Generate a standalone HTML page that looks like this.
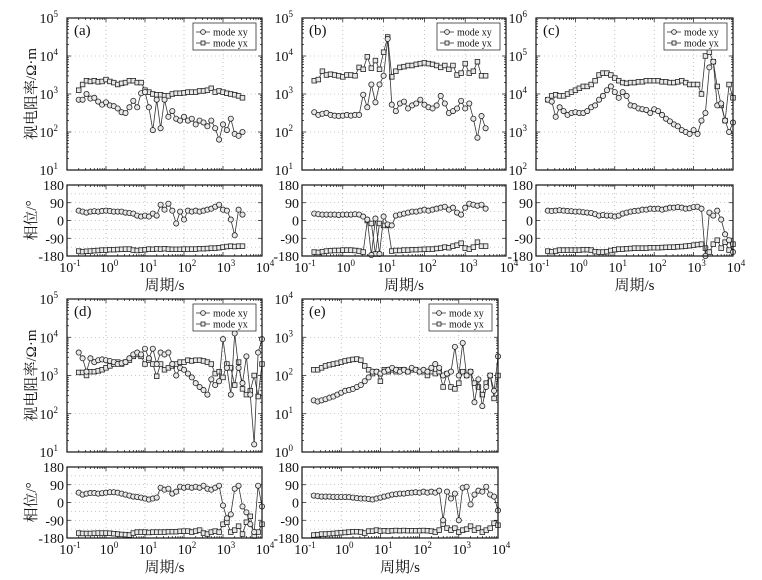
<!DOCTYPE html>
<html><head><meta charset="utf-8"><style>
body{margin:0;background:#fff;}
svg{display:block;}
svg text{font-family:"Liberation Serif","Noto Serif CJK SC",serif;}
</style></head><body>
<svg id="fig" width="762" height="580" viewBox="0 0 762 580" xmlns="http://www.w3.org/2000/svg" font-family="Liberation Serif, Noto Serif CJK SC, serif"></svg>
<script>
// shared period axis (log10 seconds)
const periodsAB = [-0.7,-0.6,-0.5,-0.4,-0.3,-0.2,-0.1,0,0.1,0.2,0.3,0.4,0.5,0.6,0.7,0.8,0.9,1.0,1.1,1.2,1.3,1.4,1.5,1.6,1.7,1.8,1.9,2.0,2.1,2.2,2.3,2.4,2.5,2.6,2.7,2.8,2.9,3.0,3.1,3.2,3.3,3.4,3.5];
const periodsCDE = [-0.7,-0.6,-0.5,-0.4,-0.3,-0.2,-0.1,0,0.1,0.2,0.3,0.4,0.5,0.6,0.7,0.8,0.9,1.0,1.1,1.2,1.3,1.4,1.5,1.6,1.7,1.8,1.9,2.0,2.1,2.2,2.3,2.4,2.5,2.6,2.7,2.8,2.9,3.0,3.1,3.2,3.3,3.4,3.5,3.6,3.7,3.8,3.9,4.0];
const xTickLabels = ["-1","0","1","2","3","4"];
const phaseTicks = [180,90,0,-90,-180];

// (a) log10 apparent resistivity and phase (deg)
const aXyRho = [2.85,2.85,3.0,2.88,2.9,2.8,2.72,2.78,2.7,2.68,2.62,2.52,2.5,2.65,2.82,2.65,3.02,3.05,2.65,2.05,2.85,2.1,2.85,2.4,2.55,2.35,2.3,2.4,2.3,2.35,2.2,2.3,2.25,2.15,2.3,2.1,1.8,2.2,2.05,2.35,1.95,1.9,2.0];
const aYxRho = [3.1,3.25,3.35,3.33,3.35,3.32,3.33,3.38,3.33,3.3,3.25,3.28,3.3,3.35,3.35,3.3,3.3,3.1,3.05,3.0,2.98,2.98,2.95,2.95,3.0,3.02,3.02,3.03,3.05,3.05,3.05,3.08,3.08,3.1,3.15,3.05,3.08,3.05,3.02,3.0,2.98,2.95,2.9];
const aXyPh = [50,45,40,45,47,45,48,50,48,45,45,45,40,38,35,25,20,25,20,35,25,80,55,85,50,-15,45,5,50,45,50,45,50,55,60,70,80,55,50,5,-75,55,30];
const aYxPh = [-155,-158,-156,-155,-153,-152,-150,-150,-148,-148,-147,-146,-145,-145,-150,-152,-150,-148,-145,-146,-144,-145,-143,-145,-146,-146,-146,-145,-145,-145,-145,-143,-143,-142,-140,-140,-138,-135,-132,-130,-132,-130,-130];
// (b)
const bXyRho = [2.52,2.45,2.48,2.5,2.45,2.43,2.42,2.43,2.45,2.43,2.45,2.45,2.98,2.65,3.25,2.78,3.25,3.48,4.45,2.72,2.55,2.75,2.8,2.62,2.7,2.75,2.85,2.72,2.65,2.62,2.7,2.95,2.75,2.5,2.55,2.62,2.82,2.62,2.75,2.35,1.85,2.42,2.1];
const bYxRho = [3.35,3.38,3.6,3.5,3.52,3.5,3.48,3.45,3.5,3.5,3.48,3.7,3.65,3.98,3.68,3.88,3.65,4.1,4.5,3.45,3.6,3.7,3.72,3.75,3.75,3.78,3.8,3.82,3.8,3.78,3.75,3.7,3.75,3.65,3.75,3.5,3.55,3.8,3.55,3.6,3.85,3.48,3.48];
const bXyPh = [35,32,30,30,30,30,28,30,30,30,32,30,20,5,-175,10,-170,20,-20,-25,25,30,35,40,45,45,50,55,50,55,60,65,70,55,65,40,30,65,85,80,75,80,60];
const bYxPh = [-160,-162,-158,-155,-153,-152,-152,-150,-150,-150,-152,-155,-160,0,-15,-170,-15,-25,-25,-155,-152,-152,-150,-150,-148,-148,-147,-146,-145,-145,-142,-140,-135,-138,-130,-125,-115,-140,-145,-135,-110,-130,-130];
// (c)
const cXyRho = [3.85,3.8,3.4,3.65,3.55,3.45,3.5,3.52,3.5,3.5,3.55,3.65,3.7,3.85,3.95,4.1,4.2,4.05,3.9,4.05,3.95,3.7,3.68,3.62,3.6,3.58,3.5,3.6,3.55,3.45,3.35,3.28,3.2,3.15,3.05,3.0,2.95,3.05,2.95,3.3,3.5,4.7,4.85,3.7,3.75,3.3,3.0,3.25];
const cYxRho = [3.85,3.95,3.98,3.95,3.95,4.0,4.05,4.1,4.15,4.2,4.2,4.25,4.35,4.5,4.55,4.55,4.5,4.42,4.35,4.3,4.28,4.3,4.3,4.32,4.32,4.35,4.35,4.35,4.35,4.32,4.32,4.3,4.3,4.32,4.35,4.3,4.25,4.25,4.25,4.0,5.0,5.1,4.85,4.2,3.7,3.3,4.25,3.9];
const cXyPh = [50,48,50,52,50,48,47,45,45,42,40,38,32,25,28,25,25,20,25,35,40,45,48,50,55,55,60,58,60,55,60,65,65,68,65,60,62,68,70,60,-180,40,25,50,5,-70,-100,-160];
const cYxPh = [-155,-158,-155,-150,-150,-150,-150,-150,-150,-148,-148,-150,-158,-160,-160,-158,-152,-148,-145,-145,-143,-142,-140,-140,-140,-140,-138,-138,-138,-137,-136,-135,-135,-133,-132,-130,-128,-125,-122,-120,-140,-160,-120,-100,-140,-110,-150,-120];
// (d)
const dXyRho = [3.6,3.45,3.1,3.45,3.35,3.4,3.42,3.4,3.38,3.35,3.3,3.32,3.35,3.45,3.55,3.6,3.55,3.7,3.45,3.7,3.3,3.6,3.55,3.6,3.3,3.0,3.2,3.15,3.05,2.95,2.8,2.7,2.62,2.5,2.9,2.75,2.85,3.95,3.2,2.5,4.1,3.2,2.8,3.5,2.5,1.2,3.6,3.95];
const dYxRho = [3.08,3.08,3.0,3.1,3.1,3.12,3.15,3.2,3.25,3.3,3.35,3.3,3.35,3.4,3.5,3.55,3.5,3.3,3.4,3.3,2.98,3.3,3.15,3.2,3.25,3.3,3.35,3.35,3.4,3.38,3.4,3.4,3.38,3.35,3.3,3.05,3.1,2.95,3.3,3.2,2.75,3.35,2.65,2.5,2.6,3.0,2.45,3.3];
const dXyPh = [50,40,45,48,48,45,47,50,52,52,50,45,40,35,30,28,25,20,15,20,25,75,65,70,45,55,80,75,80,75,80,75,85,70,65,75,85,-15,-80,-60,70,85,-20,-50,-110,-150,85,-20];
const dYxPh = [-155,-157,-157,-157,-156,-155,-155,-155,-156,-158,-160,-162,-163,-165,-155,-150,-150,-150,-152,-150,-150,-150,-150,-148,-148,-148,-146,-145,-145,-150,-145,-140,-155,-160,-150,-145,-150,-110,-100,-150,-140,-120,-160,-100,-70,-170,-150,-110];
// (e)
const eXyRho = [1.35,1.32,1.35,1.38,1.42,1.45,1.5,1.55,1.6,1.62,1.65,1.7,1.75,1.85,1.95,2.1,2.1,2.05,2.1,2.15,2.2,2.15,2.1,2.15,2.1,2.2,2.15,2.1,2.15,2.1,2.2,2.3,2.2,2.0,2.05,2.1,2.75,2.0,2.85,2.0,2.1,1.3,1.9,1.2,1.7,2.0,1.6,2.5];
const eYxRho = [2.15,2.15,2.2,2.25,2.28,2.3,2.32,2.35,2.38,2.4,2.42,2.43,2.4,2.25,2.15,2.05,2.1,1.85,2.15,2.1,2.15,2.1,2.15,2.15,2.1,2.15,2.15,2.1,2.1,2.0,2.1,2.05,2.1,1.7,2.05,1.7,1.65,1.8,2.1,2.0,2.1,1.8,1.7,1.5,1.8,2.0,1.4,2.0];
const eXyPh = [35,32,30,30,30,28,28,28,28,27,25,22,20,20,18,15,20,25,30,35,40,42,45,45,48,50,52,50,55,50,55,50,60,-90,55,20,45,-90,75,80,-10,40,60,55,80,40,30,-40];
const eYxPh = [-165,-163,-160,-160,-158,-157,-155,-153,-152,-150,-148,-148,-150,-155,-145,-145,-140,-145,-143,-145,-143,-142,-143,-142,-143,-143,-143,-143,-142,-143,-145,-150,-140,-110,-130,-140,-130,-150,-140,-135,-120,-140,-130,-150,-140,-130,-105,-115];

const NS = "http://www.w3.org/2000/svg";
const FF = '"Liberation Serif","Noto Serif CJK SC",serif';
const svg = document.getElementById('fig');
function mk(tag, attrs, parent){
  const e = document.createElementNS(NS, tag);
  for (const k in attrs) e.setAttribute(k, attrs[k]);
  if (tag === 'text') e.style.fontFamily = FF;
  (parent||svg).appendChild(e);
  return e;
}
function supText(parent, x, y, base, exp, anchor){
  const t = mk('text', {x:x, y:y, 'font-size':14, 'text-anchor':anchor, fill:'#111'}, parent);
  
  
  const b = document.createElementNS(NS,'tspan'); b.textContent = base; t.appendChild(b);
  const s = document.createElementNS(NS,'tspan'); s.setAttribute('dy','-6'); s.setAttribute('font-size','9'); s.textContent = exp; t.appendChild(s);
}
function drawSeries(g, periods, vals, sx, sy, marker, name){
  const sg = mk('g', {}, g);
  
  
  let d = '';
  periods.forEach((p,i)=>{ d += (i?'L':'M') + sx(p).toFixed(1) + ' ' + sy(vals[i]).toFixed(1); });
  mk('path', {d:d, fill:'none', stroke:'#333', 'stroke-width':0.8}, sg);
  periods.forEach((p,i)=>{
    const x = sx(p), y = sy(vals[i]);
    let m;
    if (marker==='circle') m = mk('circle', {cx:x, cy:y, r:2.6, fill:'#e8e8e8', stroke:'#222', 'stroke-width':0.8}, sg);
    else m = mk('rect', {x:x-2.3, y:y-2.3, width:4.6, height:4.6, fill:'#e8e8e8', stroke:'#222', 'stroke-width':0.8}, sg);
    
    
  });
}
function panel(cfg){
  const g = mk('g', {});
  
  
  const {x0,x1,ry0,ry1,py0,py1,rmin,rmax} = cfg;
  const sx = v => x0 + (v + 1) / 5 * (x1 - x0);
  const sr = v => ry1 - (v - rmin) / (rmax - rmin) * (ry1 - ry0);
  const sp = v => py1 - (v + 180) / 360 * (py1 - py0);
  const grid = mk('g', {stroke:'#999', 'stroke-width':0.6, 'stroke-dasharray':'1,3'}, g);
  
  
  for (let e=0;e<=4;e++){
    mk('line',{x1:sx(e),x2:sx(e),y1:ry0,y2:ry1},grid);
    mk('line',{x1:sx(e),x2:sx(e),y1:py0,y2:py1},grid);
  }
  for (let v=rmin+1; v<rmax; v++) mk('line',{x1:x0,x2:x1,y1:sr(v),y2:sr(v)},grid);
  [135,90,45,0,-45,-90,-135].forEach(v=>mk('line',{x1:x0,x2:x1,y1:sp(v),y2:sp(v)},grid));
  const tk = mk('g', {stroke:'#111','stroke-width':0.7}, g);
  for (let e=-1;e<4;e++){
    for (let m=1;m<10;m++){
      const x = sx(e + Math.log10(m)); const L = m===1?4:2;
      mk('line',{x1:x,x2:x,y1:ry1,y2:ry1-L},tk); mk('line',{x1:x,x2:x,y1:ry0,y2:ry0+L},tk);
      mk('line',{x1:x,x2:x,y1:py1,y2:py1-L},tk); mk('line',{x1:x,x2:x,y1:py0,y2:py0+L},tk);
    }
  }
  for (let e=rmin;e<rmax;e++){
    for (let m=1;m<10;m++){
      const y = sr(e + Math.log10(m)); const L = m===1?4:2;
      mk('line',{x1:x0,x2:x0+L,y1:y,y2:y},tk); mk('line',{x1:x1,x2:x1-L,y1:y,y2:y},tk);
    }
  }
  phaseTicks.forEach(v=>{ mk('line',{x1:x0,x2:x0+4,y1:sp(v),y2:sp(v)},tk); mk('line',{x1:x1,x2:x1-4,y1:sp(v),y2:sp(v)},tk); });
  drawSeries(g, cfg.periods, cfg.yxRho, sx, sr, 'square', 'mode-yx-resistivity');
  drawSeries(g, cfg.periods, cfg.xyRho, sx, sr, 'circle', 'mode-xy-resistivity');
  drawSeries(g, cfg.periods, cfg.yxPh, sx, sp, 'square', 'mode-yx-phase');
  drawSeries(g, cfg.periods, cfg.xyPh, sx, sp, 'circle', 'mode-xy-phase');
  const f1 = mk('rect',{x:x0,y:ry0,width:x1-x0,height:ry1-ry0,fill:'none',stroke:'#111','stroke-width':1.2},g);
   
  const f2 = mk('rect',{x:x0,y:py0,width:x1-x0,height:py1-py0,fill:'none',stroke:'#111','stroke-width':1.2},g);
   
  for (let v=rmin; v<=rmax; v++) supText(g, x0-9, sr(v)+5, '10', String(v), 'end');
  phaseTicks.forEach(v=>{
    const t = mk('text',{x:x0-3,y:sp(v)+5,'font-size':14,'text-anchor':'end',fill:'#111'},g);
    t.textContent = String(v);
    
    
  });
  xTickLabels.forEach((lab,i)=> supText(g, sx(i-1)+3, py1+16, '10', lab, 'middle'));
  const xl = mk('text',{x:(x0+x1)/2,y:py1+34,'font-size':15,'text-anchor':'middle',fill:'#111'},g);
  xl.textContent = '周期/s';
   
  const pl = mk('text',{x:x0+7,y:ry0+17,'font-size':15,fill:'#111'},g);
  pl.textContent = '(' + cfg.id + ')';
   
  const lg = mk('g',{},g);
   
  const lx = x1-69, ly = ry0+5;
  mk('rect',{x:lx,y:ly,width:63,height:27,fill:'#fff',stroke:'#333','stroke-width':0.8},lg);
  [['mode xy','circle',ly+9],['mode yx','square',ly+20]].forEach(([lab,mkr,yy])=>{
    const e = mk('g',{},lg);
    
    
    mk('line',{x1:lx+3,x2:lx+17,y1:yy,y2:yy,stroke:'#333','stroke-width':0.8},e);
    if (mkr==='circle') mk('circle',{cx:lx+10,cy:yy,r:2.4,fill:'#e8e8e8',stroke:'#222','stroke-width':0.8},e);
    else mk('rect',{x:lx+8,y:yy-2,width:4,height:4,fill:'#e8e8e8',stroke:'#222','stroke-width':0.8},e);
    const t = mk('text',{x:lx+20,y:yy+3.5,'font-size':10,fill:'#111'},e);
    t.textContent = lab;
  });
  if (cfg.ylab){
    const cy1 = (ry0+ry1)/2, cy2 = (py0+py1)/2;
    const t1 = mk('text',{x:0,y:0,'font-size':15,'text-anchor':'middle',fill:'#111',transform:`translate(36,${cy1}) rotate(-90)`},g);
    t1.textContent = '视电阻率/Ω·m';
     
    const t2 = mk('text',{x:0,y:0,'font-size':15,'text-anchor':'middle',fill:'#111',transform:`translate(36,${cy2}) rotate(-90)`},g);
    t2.textContent = '相位/°';
     
  }
}
panel({id:'a',x0:67,x1:262,ry0:18,ry1:170,py0:185,py1:256,rmin:1,rmax:5,ylab:true,periods:periodsAB,xyRho:aXyRho,yxRho:aYxRho,xyPh:aXyPh,yxPh:aYxPh});
panel({id:'b',x0:302,x1:506,ry0:18,ry1:170,py0:185,py1:256,rmin:1,rmax:5,periods:periodsAB,xyRho:bXyRho,yxRho:bYxRho,xyPh:bXyPh,yxPh:bYxPh});
panel({id:'c',x0:536,x1:733,ry0:18,ry1:170,py0:185,py1:256,rmin:2,rmax:6,periods:periodsCDE,xyRho:cXyRho,yxRho:cYxRho,xyPh:cXyPh,yxPh:cYxPh});
panel({id:'d',x0:67,x1:262,ry0:299,ry1:452,py0:467,py1:538,rmin:1,rmax:5,ylab:true,periods:periodsCDE,xyRho:dXyRho,yxRho:dYxRho,xyPh:dXyPh,yxPh:dYxPh});
panel({id:'e',x0:302,x1:498,ry0:299,ry1:452,py0:467,py1:538,rmin:0,rmax:4,periods:periodsCDE,xyRho:eXyRho,yxRho:eYxRho,xyPh:eXyPh,yxPh:eYxPh});
</script>
</body></html>
